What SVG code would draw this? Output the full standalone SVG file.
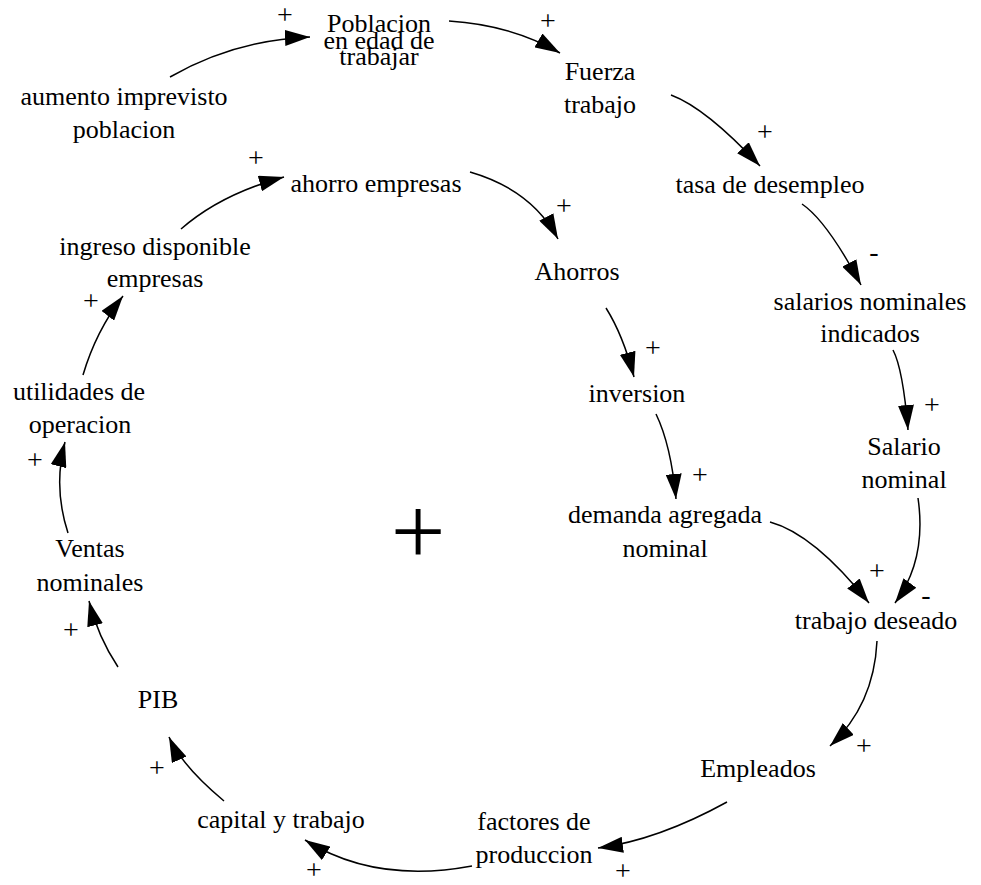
<svg xmlns="http://www.w3.org/2000/svg" width="981" height="885" viewBox="0 0 981 885">
<style>
  .t { font-size: 26px; fill: #000; text-anchor: middle; }
  .p { font-size: 28px; fill: #000; text-anchor: middle; }
  .c { fill: none; stroke: #000; stroke-width: 1.5; marker-end: url(#ah); }
  .big { font-size: 97px; fill: #000; text-anchor: middle; }
</style>
<defs>
  <marker id="ah" markerUnits="userSpaceOnUse" viewBox="0 0 26 16" markerWidth="26" markerHeight="16" refX="25" refY="8" orient="auto">
    <path d="M0,0 L25,8 L0,16 z" fill="#000"/>
  </marker>
</defs>
<rect width="981" height="885" fill="#fff"/>

<g id="connectors">
  <path class="c" d="M170,77 Q235,40 310,37"/>
  <path class="c" d="M449,21 Q512,25 560,53"/>
  <path class="c" d="M671,95 Q706,108 760,166"/>
  <path class="c" d="M802,204 Q827,221 861,285"/>
  <path class="c" d="M893,350 Q903,369 908,430"/>
  <path class="c" d="M918,498 Q927,560 895,603"/>
  <path class="c" d="M770,522 Q814,534 869,603"/>
  <path class="c" d="M606,308 Q623,335 634,377"/>
  <path class="c" d="M656,414 Q671,445 676,499"/>
  <path class="c" d="M470,172 Q532,190 558,239"/>
  <path class="c" d="M181,229 Q221,194 284,177"/>
  <path class="c" d="M83,375 Q96,331 123,296"/>
  <path class="c" d="M68,533 Q53,487 65,442"/>
  <path class="c" d="M118,667 Q98,637 89,601"/>
  <path class="c" d="M224,801 Q182,766 169,737"/>
  <path class="c" d="M472,866 Q375,884 305,840"/>
  <path class="c" d="M727,802 Q658,840 598,848"/>
  <path class="c" d="M877,641 Q874,705 830,746"/>
</g>

<g font-family="'Liberation Serif', serif">
<g id="polarities">
  <text class="p" x="285" y="24">+</text>
  <text class="p" x="548" y="30">+</text>
  <text class="p" x="765" y="141">+</text>
  <text class="p" x="874" y="261">-</text>
  <text class="p" x="932" y="414">+</text>
  <text class="p" x="926" y="604">-</text>
  <text class="p" x="877" y="580">+</text>
  <text class="p" x="653" y="357">+</text>
  <text class="p" x="700" y="484">+</text>
  <text class="p" x="564" y="215">+</text>
  <text class="p" x="256" y="167">+</text>
  <text class="p" x="91" y="310">+</text>
  <text class="p" x="35" y="469">+</text>
  <text class="p" x="71" y="639">+</text>
  <text class="p" x="157" y="777">+</text>
  <text class="p" x="314" y="879">+</text>
  <text class="p" x="623" y="880">+</text>
  <text class="p" x="864" y="755">+</text>
</g>

<g id="loop">
  <text class="big" x="418" y="564">+</text>
</g>

<g id="aumento-imprevisto-poblacion">
  <text class="t"><tspan x="124" y="105">aumento imprevisto</tspan><tspan x="124" y="138">poblacion</tspan></text>
</g>
<g id="poblacion-edad-trabajar">
  <text class="t"><tspan x="379" y="32">Poblacion</tspan><tspan x="379" y="49">en edad de</tspan><tspan x="379" y="65">trabajar</tspan></text>
</g>
<g id="fuerza-trabajo">
  <text class="t"><tspan x="600" y="80">Fuerza</tspan><tspan x="600" y="113">trabajo</tspan></text>
</g>
<g id="tasa-desempleo">
  <text class="t" x="770" y="193">tasa de desempleo</text>
</g>
<g id="salarios-nominales-indicados">
  <text class="t"><tspan x="870" y="310">salarios nominales</tspan><tspan x="870" y="342">indicados</tspan></text>
</g>
<g id="salario-nominal">
  <text class="t"><tspan x="904" y="455">Salario</tspan><tspan x="904" y="488">nominal</tspan></text>
</g>
<g id="trabajo-deseado">
  <text class="t" x="876" y="629">trabajo deseado</text>
</g>
<g id="empleados">
  <text class="t" x="758" y="777">Empleados</text>
</g>
<g id="factores-produccion">
  <text class="t"><tspan x="534" y="830">factores de</tspan><tspan x="534" y="863">produccion</tspan></text>
</g>
<g id="capital-trabajo">
  <text class="t" x="281" y="828">capital y trabajo</text>
</g>
<g id="pib">
  <text class="t" x="158" y="708">PIB</text>
</g>
<g id="ventas-nominales">
  <text class="t"><tspan x="90" y="557">Ventas</tspan><tspan x="90" y="591">nominales</tspan></text>
</g>
<g id="utilidades-operacion">
  <text class="t"><tspan x="79" y="400">utilidades de</tspan><tspan x="80" y="433">operacion</tspan></text>
</g>
<g id="ingreso-disponible-empresas">
  <text class="t"><tspan x="155" y="255">ingreso disponible</tspan><tspan x="155" y="287">empresas</tspan></text>
</g>
<g id="ahorro-empresas">
  <text class="t" x="376" y="192">ahorro empresas</text>
</g>
<g id="ahorros">
  <text class="t" x="577" y="280">Ahorros</text>
</g>
<g id="inversion">
  <text class="t" x="637" y="402">inversion</text>
</g>
<g id="demanda-agregada-nominal">
  <text class="t"><tspan x="665" y="523">demanda agregada</tspan><tspan x="665" y="557">nominal</tspan></text>
</g>
</g>
</svg>
